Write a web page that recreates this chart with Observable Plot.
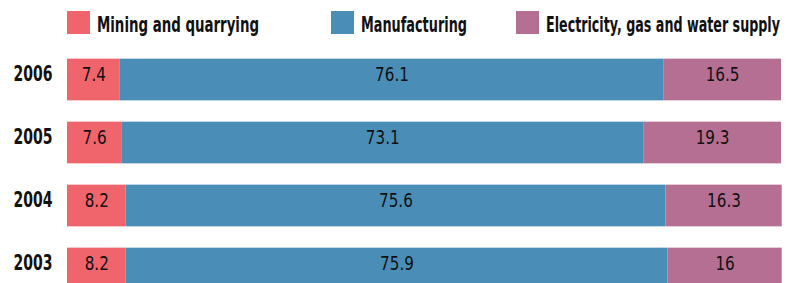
<!DOCTYPE html>
<html>
<head>
<meta charset="utf-8">
<script src="https://cdn.jsdelivr.net/npm/d3@7"></script>
<script src="https://cdn.jsdelivr.net/npm/@observablehq/plot@0.6"></script>
<style>
  html, body { margin: 0; padding: 0; background: #fff; overflow: hidden; }
  body { width: 787px; height: 283px; position: relative; font-family: "DejaVu Sans Condensed", sans-serif; }
  #legend { position: absolute; left: 0; top: 0; width: 787px; height: 45px; }
  .item { position: absolute; top: 11px; height: 23px; }
  .sw { position: absolute; left: 0; top: 0; width: 23px; height: 23px; }
  .lab { position: absolute; left: 30px; top: 3px; font-size: 21px; font-weight: bold; color: #111; white-space: nowrap; line-height: 23px; transform-origin: left center; }
  #chart { position: absolute; left: 0; top: 45px; }
</style>
</head>
<body>
<div id="legend"></div>
<div id="chart"></div>
<script>
const years = ["2006", "2005", "2004", "2003"];
const sectors = ["Mining and quarrying", "Manufacturing", "Electricity, gas and water supply"];
const mining = [7.4, 7.6, 8.2, 8.2];
const manufacturing = [76.1, 73.1, 75.6, 75.9];
const electricity = [16.5, 19.3, 16.3, 16];
const colors = ["#f0646c", "#4a8eb8", "#b56f92"];
const legendX = [67, 331, 516];
const legendTextWidth = [162, 106, 234];

const series = [mining, manufacturing, electricity];
const data = [];
years.forEach((y, i) => {
  sectors.forEach((s, j) => {
    data.push({year: y, sector: s, value: series[j][i]});
  });
});

const legend = document.getElementById("legend");
sectors.forEach((s, j) => {
  const it = document.createElement("div");
  it.className = "item";
  it.style.left = legendX[j] + "px";
  it.innerHTML = `<div class="sw" style="background:${colors[j]}"></div><div class="lab">${s}</div>`;
  legend.appendChild(it);
  const lab = it.querySelector(".lab");
  const w = lab.getBoundingClientRect().width;
  lab.style.transform = `scaleX(${legendTextWidth[j] / w})`;
});

const stackOpts = {x: "value", y: "year", z: "sector", order: sectors};
const chart = Plot.plot({
  width: 787,
  height: 256,
  marginLeft: 67,
  marginRight: 6,
  marginTop: 1.35,
  marginBottom: 0,
  style: {fontFamily: '"DejaVu Sans Condensed", sans-serif', overflow: "visible"},
  x: {domain: [0, 100], axis: null},
  y: {domain: years, padding: 0, axis: null},
  color: {domain: sectors, range: colors},
  marks: [
    Plot.barX(data, Plot.stackX({...stackOpts, fill: "sector", insetTop: 10.65, insetBottom: 10.65})),
    Plot.textX(data, Plot.stackX({...stackOpts, text: d => String(d.value), fontSize: 19, fill: "#111", dy: 1, className: "vlab"})),
    Plot.axisY({tickSize: 0, tickPadding: 15, fontSize: 20.5, fontWeight: "bold", fill: "#111", label: null, dy: 1, className: "ylab"})
  ]
});
document.getElementById("chart").appendChild(chart);

function condense(sel, k) {
  sel.each(function() {
    const t = this.getAttribute("transform") || "";
    const x = +this.getAttribute("x") || 0, y = +this.getAttribute("y") || 0;
    this.removeAttribute("x"); this.removeAttribute("y");
    this.setAttribute("transform", `${t} translate(${x},${y}) scale(${k},1)`);
  });
}
condense(d3.select(chart).selectAll(".vlab text"), 0.89);
condense(d3.select(chart).selectAll(".ylab text"), 0.76);
</script>
</body>
</html>
